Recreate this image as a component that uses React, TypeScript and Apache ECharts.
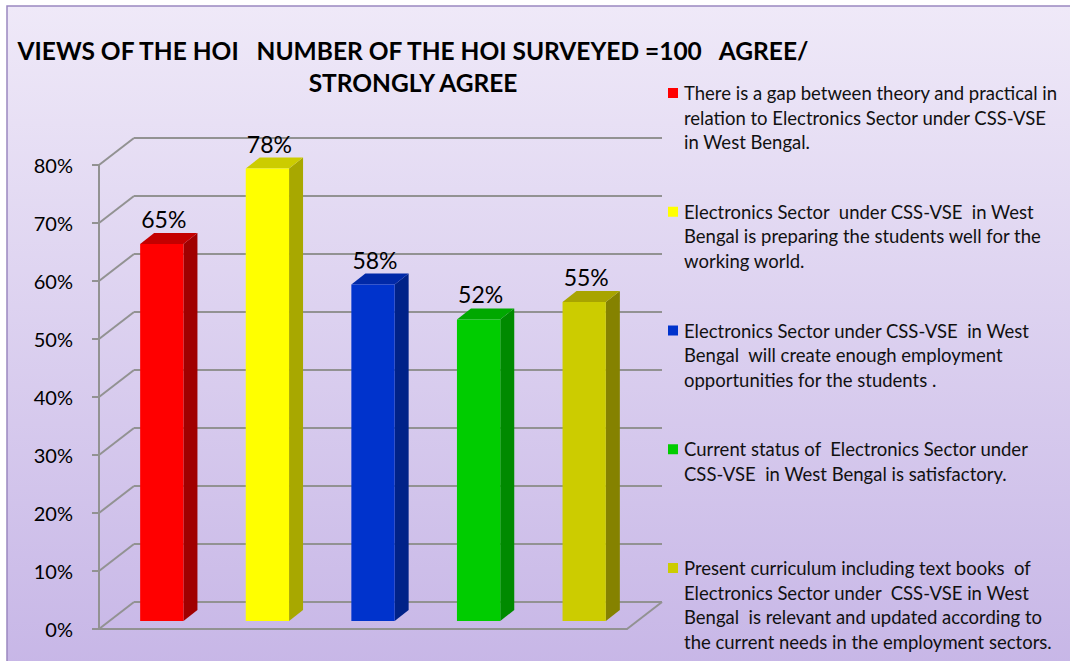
import React, { useEffect, useRef } from "react";
import * as echarts from "echarts";

const legendTexts = [
  "There is a gap between theory and practical in\nrelation to Electronics Sector under CSS-VSE\nin West Bengal.",
  "Electronics Sector  under CSS-VSE  in West\nBengal is preparing the students well for the\nworking world.",
  "Electronics Sector under CSS-VSE  in West\nBengal  will create enough employment\nopportunities for the students .",
  "Current status of  Electronics Sector under\nCSS-VSE  in West Bengal is satisfactory.",
  "Present curriculum including text books  of\nElectronics Sector under  CSS-VSE in West\nBengal  is relevant and updated according to\nthe current needs in the employment sectors.",
];
const categories = ["Q1", "Q2", "Q3", "Q4", "Q5"];
const values = [65, 78, 58, 52, 55];
const yTicks = [0, 10, 20, 30, 40, 50, 60, 70, 80];
const titleText = "VIEWS OF THE HOI   NUMBER OF THE HOI SURVEYED =100   AGREE/\nSTRONGLY AGREE";

const frontColors = ["#ff0000", "#ffff00", "#0033cc", "#00cc00", "#cccc00"];
const sideColors = ["#a00000", "#a8a800", "#002288", "#008a00", "#858200"];
const topColors = ["#c40000", "#cccc00", "#0029a8", "#00a800", "#a8a400"];

const FONT = "Lato, 'Open Sans', sans-serif";
const GRID_COLOR = "#929292";

export default function App() {
  const ref = useRef<HTMLDivElement>(null);
  useEffect(() => {
    document.body.style.margin = "0";
    const chart = echarts.init(ref.current!, null, { renderer: "svg" });
    const depthX = 35, depthY = 27;
    const barDX = 14, barDY = 11;

    const legendGraphics: any[] = [];
    legendTexts.forEach((t, i) => {
      const yc = 93 + i * 118.75;
      legendGraphics.push({
        type: "rect",
        shape: { x: 668, y: yc - 5, width: 10, height: 10 },
        style: { fill: frontColors[i] },
        z: 10,
      });
      legendGraphics.push({
        type: "text",
        x: 684,
        y: yc - 12.25,
        style: {
          text: t,
          fontFamily: FONT,
          fontSize: 18.5,
          lineHeight: 24.5,
          fill: "#111",
          verticalAlign: "top",
          align: "left",
        },
        z: 10,
      });
    });

    chart.setOption({
      animation: false,
      textStyle: { fontFamily: FONT },
      graphic: [
        {
          type: "rect",
          shape: { x: 7, y: 6, width: 1080, height: 680 },
          style: {
            fill: new echarts.graphic.LinearGradient(0, 0, 0, 1, [
              { offset: 0, color: "#efe9f8" },
              { offset: 1, color: "#c6b5e6" },
            ]),
            stroke: "#9a88c0",
            lineWidth: 1.5,
          },
          z: -10,
          silent: true,
        },
        {
          type: "text",
          x: 413,
          y: 66,
          style: {
            text: titleText,
            fontFamily: FONT,
            fontWeight: "bold",
            fontSize: 24.5,
            lineHeight: 32,
            fill: "#000",
            align: "center",
            verticalAlign: "middle",
          },
          z: 10,
        },
        ...legendGraphics,
      ],
      grid: [
        { left: 99, top: 165, width: 528, height: 464 },
        { left: 99 + depthX, top: 165 - depthY, width: 528, height: 464 },
        { left: 109, top: 157, width: 528, height: 464 },
      ],
      xAxis: [
        {
          gridIndex: 0,
          type: "category",
          data: categories,
          axisLine: { show: true, lineStyle: { color: GRID_COLOR, width: 2 } },
          axisTick: { show: false },
          axisLabel: { show: false },
        },
        { gridIndex: 1, type: "category", data: categories, show: false },
        { gridIndex: 2, type: "category", data: categories, show: false },
      ],
      yAxis: [
        {
          gridIndex: 0,
          type: "value",
          min: 0,
          max: 80,
          interval: 10,
          axisLine: { show: true, lineStyle: { color: GRID_COLOR, width: 2 } },
          axisTick: { show: true, length: 7, lineStyle: { color: GRID_COLOR, width: 2 } },
          axisLabel: {
            formatter: "{value}%",
            fontSize: 20,
            color: "#000",
            margin: 26,
            fontFamily: FONT,
          },
          splitLine: { show: false },
        },
        {
          gridIndex: 1,
          type: "value",
          min: 0,
          max: 80,
          interval: 10,
          axisLine: { show: false },
          axisTick: { show: false },
          axisLabel: { show: false },
          splitLine: { show: true, lineStyle: { color: GRID_COLOR, width: 2 } },
        },
        { gridIndex: 2, type: "value", min: 0, max: 80, interval: 10, show: false, splitLine: { show: false } },
      ],
      series: [
        {
          type: "custom",
          xAxisIndex: 0,
          yAxisIndex: 0,
          data: yTicks.map((v) => [0, v]),
          renderItem: (params: any, api: any) => {
            const v = api.value(1);
            const p = api.coord([0, v]);
            const cs = params.coordSys;
            const children: any[] = [
              {
                type: "line",
                shape: { x1: cs.x, y1: p[1], x2: cs.x + depthX, y2: p[1] - depthY },
                style: { stroke: GRID_COLOR, lineWidth: 2 },
              },
            ];
            if (v === 0) {
              children.push({
                type: "line",
                shape: {
                  x1: cs.x + cs.width,
                  y1: p[1],
                  x2: cs.x + cs.width + depthX,
                  y2: p[1] - depthY,
                },
                style: { stroke: GRID_COLOR, lineWidth: 2 },
              });
            }
            return { type: "group", children };
          },
          z: 1,
          silent: true,
        },
        {
          type: "custom",
          xAxisIndex: 2,
          yAxisIndex: 2,
          data: values.map((v, i) => [i, v]),
          renderItem: (params: any, api: any) => {
            const i = api.value(0);
            const v = api.value(1);
            const top = api.coord([i, v]);
            const base = api.coord([i, 0]);
            const w = api.size([1, 0])[0] * 0.41;
            const l = top[0] - w / 2;
            const r = top[0] + w / 2;
            const t = top[1];
            const b = base[1];
            return {
              type: "group",
              children: [
                {
                  type: "polygon",
                  shape: { points: [[r, t], [r + barDX, t - barDY], [r + barDX, b - barDY], [r, b]] },
                  style: { fill: sideColors[i] },
                },
                {
                  type: "polygon",
                  shape: { points: [[l, t], [l + barDX, t - barDY], [r + barDX, t - barDY], [r, t]] },
                  style: { fill: topColors[i] },
                },
                {
                  type: "rect",
                  shape: { x: l, y: t, width: w, height: b - t },
                  style: { fill: frontColors[i] },
                },
                {
                  type: "text",
                  x: top[0] + 2,
                  y: t - barDY - 14,
                  style: {
                    text: v + "%",
                    fontFamily: FONT,
                    fontSize: 23,
                    fill: "#000",
                    align: "center",
                    verticalAlign: "middle",
                  },
                },
              ],
            };
          },
          z: 5,
        },
      ],
    });
    return () => chart.dispose();
  }, []);
  return <div ref={ref} style={{ width: 1070, height: 661 }} />;
}
